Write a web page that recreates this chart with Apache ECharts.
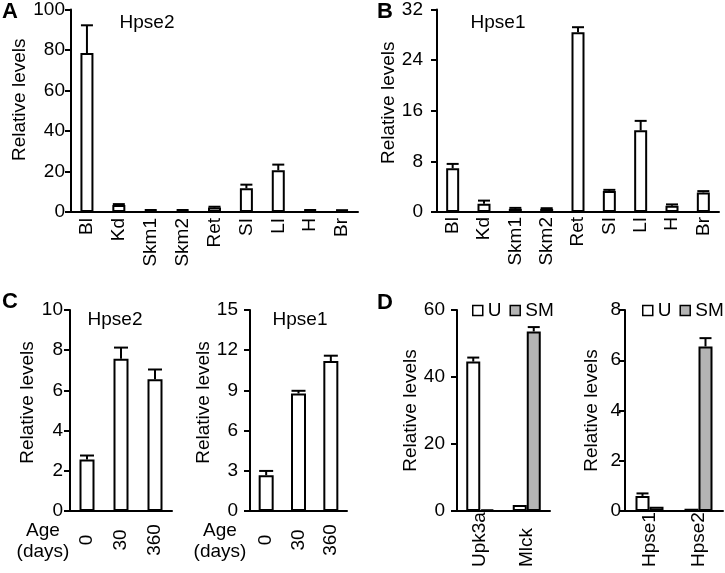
<!DOCTYPE html>
<html>
<head>
<meta charset="utf-8">
<script src="https://cdn.jsdelivr.net/npm/echarts@6/dist/echarts.min.js"></script>
<style>
  html, body { margin: 0; padding: 0; background: #fff; }
  #chart { width: 725px; height: 573px; }
</style>
</head>
<body>
<div id="chart"></div>
<script>
// panel A / B: tissues
var tissues = ['Bl', 'Kd', 'Skm1', 'Skm2', 'Ret', 'SI', 'LI', 'H', 'Br'];
var hpse2Tissue = [78.5, 3.4, 0.8, 0.8, 2.2, 11.7, 20.6, 0.8, 0.7];
var hpse2TissueErr = [13.7, 0.5, 0.2, 0.2, 0.4, 1.8, 2.8, 0.2, 0.2];
var hpse1Tissue = [6.9, 1.3, 0.5, 0.5, 28.4, 3.3, 12.9, 1.0, 3.1];
var hpse1TissueErr = [0.7, 0.5, 0.15, 0.1, 0.8, 0.2, 1.5, 0.2, 0.2];

// panel C: age (days)
var ages = ['0', '30', '360'];
var hpse2Age = [2.56, 7.57, 6.56];
var hpse2AgeErr = [0.2, 0.56, 0.48];
var hpse1Age = [2.67, 8.77, 11.19];
var hpse1AgeErr = [0.32, 0.2, 0.4];

// panel D: U vs SM
var markers = ['Upk3a', 'Mlck'];
var markersU = [44.6, 1.8];
var markersUErr = [1.2, 0];
var markersSM = [0.5, 53.6];
var markersSMErr = [0, 1.3];
var genes = ['Hpse1', 'Hpse2'];
var genesU = [0.6, 0.09];
var genesUErr = [0.1, 0];
var genesSM = [0.17, 6.55];
var genesSMErr = [0, 0.33];

var F = '"Liberation Sans", Arial, sans-serif';

function yAx(gi, max, interval, margin, nameGap, pad) {
  return {
    type: 'value', gridIndex: gi, min: 0, max: max, interval: interval,
    name: 'Relative levels', nameLocation: 'middle', nameGap: nameGap,
    nameTextStyle: { fontSize: 19, color: '#000', fontFamily: F, padding: [0, 0, 0, pad] },
    axisLine: { show: true, lineStyle: { color: '#000', width: 2 } },
    axisTick: { show: true, length: 6, lineStyle: { color: '#000', width: 2 } },
    axisLabel: { fontSize: 19, color: '#000', fontFamily: F, margin: margin },
    splitLine: { show: false }
  };
}

function xAx(gi, data, label) {
  var lab = { rotate: 90, fontSize: 19, color: '#000', fontFamily: F, interval: 0 };
  for (var k in label) lab[k] = label[k];
  return {
    type: 'category', gridIndex: gi, data: data,
    axisLine: { show: true, lineStyle: { color: '#000', width: 2 } },
    axisTick: { show: false },
    axisLabel: lab
  };
}

function bar(gi, name, data, width, fill) {
  return {
    type: 'bar', name: name, xAxisIndex: gi, yAxisIndex: gi, data: data,
    barWidth: width, barGap: '0%',
    itemStyle: { color: fill, borderColor: '#000', borderWidth: 2 },
    z: 2
  };
}

function errBar(gi, vals, errs, offset, half) {
  return {
    type: 'custom', name: 'err' + gi, xAxisIndex: gi, yAxisIndex: gi,
    data: vals.map(function (v, i) { return [i, v, errs[i]]; }),
    encode: { x: 0, y: 1 },
    z: 3,
    renderItem: function (params, api) {
      var e = api.value(2);
      if (!e) return;
      var p0 = api.coord([api.value(0), api.value(1)]);
      var p1 = api.coord([api.value(0), api.value(1) + e]);
      var cx = p0[0] + offset;
      var st = { stroke: '#000', lineWidth: 2 };
      return {
        type: 'group',
        children: [
          { type: 'line', shape: { x1: cx, y1: p0[1], x2: cx, y2: p1[1] }, style: st },
          { type: 'line', shape: { x1: cx - half, y1: p1[1], x2: cx + half, y2: p1[1] }, style: st }
        ]
      };
    }
  };
}

function txt(x, y, s, font) {
  return {
    type: 'text', x: x, y: y,
    style: { text: s, font: font, fill: '#000', textAlign: 'center', textVerticalAlign: 'middle' }
  };
}

function legendAt(left) {
  return {
    data: ['U', 'SM'], left: left, top: 301, padding: 0,
    itemWidth: 10, itemHeight: 10, itemGap: 8,
    icon: 'rect', selectedMode: false, itemStyle: { borderWidth: 1.5 },
    textStyle: { fontSize: 19, color: '#000', fontFamily: F }
  };
}

var chart = echarts.init(document.getElementById('chart'));

var option = {
  animation: false,
  backgroundColor: '#fff',
  grid: [
    { left: 71, top: 8, width: 287, height: 204 },
    { left: 437, top: 9, width: 282, height: 203 },
    { left: 70, top: 310, width: 102, height: 201 },
    { left: 250, top: 310, width: 97, height: 201 },
    { left: 457, top: 310, width: 93, height: 201 },
    { left: 625, top: 310, width: 98, height: 201 }
  ],
  xAxis: [
    xAx(0, tissues, { margin: 6 }),
    xAx(1, tissues, { margin: 5 }),
    xAx(2, ages, { margin: 29, align: 'center' }),
    xAx(3, ages, { margin: 29, align: 'center' }),
    xAx(4, markers, { margin: 56, align: 'left' }),
    xAx(5, genes, { margin: 56, align: 'left' })
  ],
  yAxis: [
    yAx(0, 100, 20, 6, 38, 22),
    yAx(1, 32, 8, 14, 39, 16),
    yAx(2, 10, 2, 7, 33, 16),
    yAx(3, 15, 3, 12, 31, 16),
    yAx(4, 60, 20, 12, 36, 0),
    yAx(5, 8, 2, 4, 24, 0)
  ],
  legend: [legendAt(472), legendAt(642)],
  series: [
    bar(0, 'Hpse2', hpse2Tissue, 13, '#fff'),
    errBar(0, hpse2Tissue, hpse2TissueErr, 0, 6),
    bar(1, 'Hpse1', hpse1Tissue, 13, '#fff'),
    errBar(1, hpse1Tissue, hpse1TissueErr, 0, 6),
    bar(2, 'Hpse2 age', hpse2Age, 15, '#fff'),
    errBar(2, hpse2Age, hpse2AgeErr, 0, 7),
    bar(3, 'Hpse1 age', hpse1Age, 15, '#fff'),
    errBar(3, hpse1Age, hpse1AgeErr, 0, 7),
    bar(4, 'U', markersU, 14, '#fff'),
    bar(4, 'SM', markersSM, 14, '#b4b4b4'),
    errBar(4, markersU, markersUErr, -7, 6),
    errBar(4, markersSM, markersSMErr, 7, 6),
    bar(5, 'U', genesU, 14, '#fff'),
    bar(5, 'SM', genesSM, 14, '#b4b4b4'),
    errBar(5, genesU, genesUErr, -7, 6),
    errBar(5, genesSM, genesSMErr, 7, 6)
  ],
  graphic: [
    txt(10, 12, 'A', 'bold 22px ' + F),
    txt(385, 12, 'B', 'bold 22px ' + F),
    txt(10, 302, 'C', 'bold 22px ' + F),
    txt(385, 303, 'D', 'bold 22px ' + F),
    txt(147, 23, 'Hpse2', '19px ' + F),
    txt(498, 23, 'Hpse1', '19px ' + F),
    txt(115, 320, 'Hpse2', '19px ' + F),
    txt(300, 320, 'Hpse1', '19px ' + F),
    txt(43, 531, 'Age', '19px ' + F),
    txt(43, 552, '(days)', '19px ' + F),
    txt(220, 531, 'Age', '19px ' + F),
    txt(220, 552, '(days)', '19px ' + F)
  ]
};

chart.setOption(option);
</script>
</body>
</html>
